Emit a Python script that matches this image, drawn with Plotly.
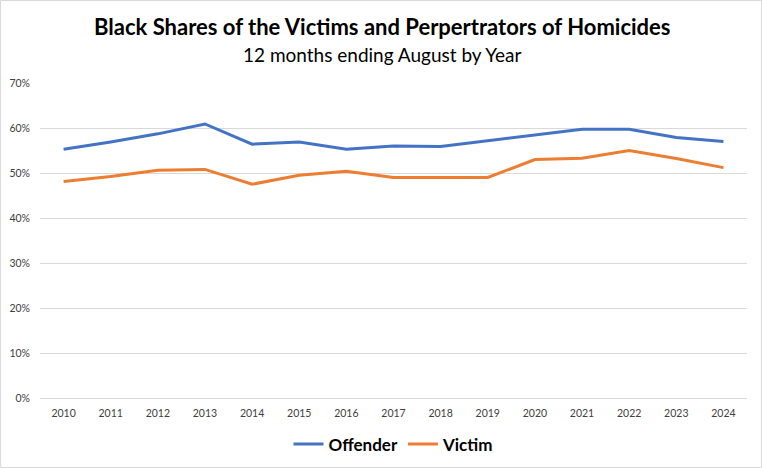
import plotly.graph_objects as go

years = [str(y) for y in range(2010, 2025)]
offender = [55.3, 56.9, 58.7, 60.9, 56.4, 56.9, 55.3, 56.0, 55.9, 57.2, 58.4, 59.7, 59.7, 57.9, 57.0]
victim = [48.1, 49.2, 50.6, 50.8, 47.5, 49.5, 50.4, 49.0, 49.0, 49.0, 53.0, 53.3, 55.0, 53.2, 51.2]
offender = [v / 100 for v in offender]
victim = [v / 100 for v in victim]

title = "Black Shares of the Victims and Perpertrators of Homicides"
subtitle = "12 months ending August by Year"

font_family = "Lato, 'Open Sans', sans-serif"

fig = go.Figure()
fig.add_trace(go.Scatter(x=years, y=offender, mode="lines", name="Offender",
                         line=dict(color="#4472C4", width=3)))
fig.add_trace(go.Scatter(x=years, y=victim, mode="lines", name="Victim",
                         line=dict(color="#ED7D31", width=3)))

fig.update_layout(
    width=762, height=468,
    paper_bgcolor="white", plot_bgcolor="white",
    margin=dict(l=40, r=15, t=83, b=70, autoexpand=False),
    font=dict(family=font_family, color="#595959"),
    showlegend=True,
    legend=dict(orientation="h", x=0.5, xanchor="center", y=-0.09, yanchor="top",
                font=dict(size=17, color="#000000", family=font_family, weight="bold"),
                itemwidth=30, tracegroupgap=0),
    annotations=[
        dict(text="<b>" + title + "</b>", xref="paper", yref="paper", x=0.484, y=1.1778,
             xanchor="center", yanchor="middle", showarrow=False,
             font=dict(size=22, color="#000000", family=font_family)),
        dict(text=subtitle, xref="paper", yref="paper", x=0.484, y=1.0889,
             xanchor="center", yanchor="middle", showarrow=False,
             font=dict(size=19, color="#000000", family=font_family)),
    ],
    shapes=[dict(type="rect", xref="paper", yref="paper", x0=-0.0559, x1=1.0205,
                 y0=-0.2206, y1=1.2619, line=dict(color="#D9D9D9", width=1))],
)

fig.update_xaxes(type="category", range=[-0.5, 14.5], showgrid=False,
                 showline=False, zeroline=False, ticks="", ticklabelstandoff=7,
                 tickfont=dict(size=10.5, color="#404040"))
fig.update_yaxes(range=[0, 0.7], dtick=0.1, tickformat=".0%", showgrid=True,
                 gridcolor="#D9D9D9", gridwidth=1, zeroline=True,
                 zerolinecolor="#D9D9D9", zerolinewidth=1, showline=False,
                 ticks="", ticklabelstandoff=9,
                 tickfont=dict(size=10.5, color="#404040"))

fig.write_html("out.html", config={"displayModeBar": False},
               post_script="document.body.style.margin='0px';document.body.style.overflow='hidden';")
